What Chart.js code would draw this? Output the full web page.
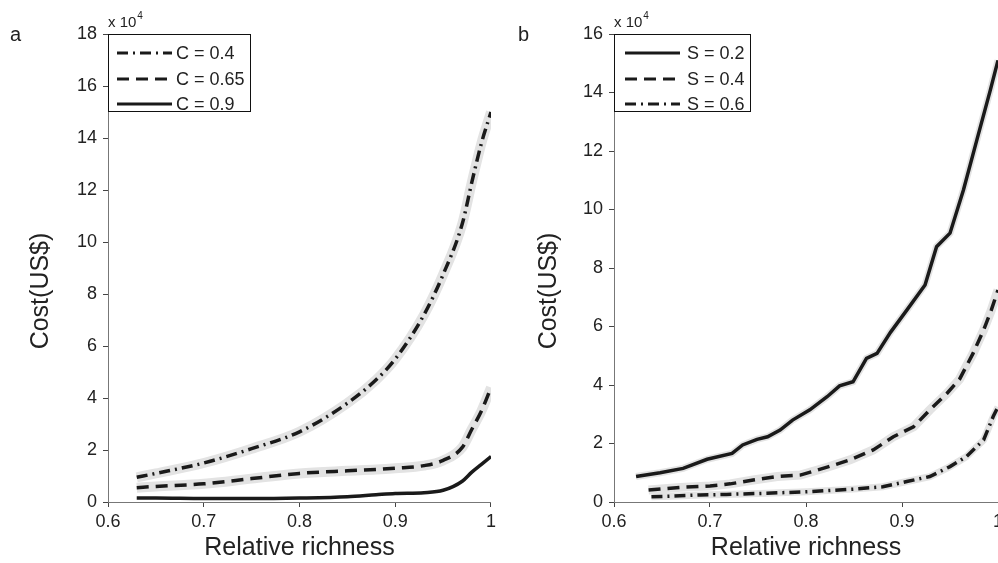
<!DOCTYPE html>
<html>
<head>
<meta charset="utf-8">
<script src="https://cdn.jsdelivr.net/npm/chart.js@4.4.1/dist/chart.umd.min.js"></script>
<style>
  html, body { margin: 0; padding: 0; background: #fff; overflow: hidden; }
  body { width: 998px; height: 563px; position: relative; }
  canvas { position: absolute; top: 0; }
  #chartA { left: 0; }
  #chartB { left: 499px; }
</style>
</head>
<body>
<canvas id="chartA" width="500" height="563"></canvas>
<canvas id="chartB" width="520" height="563"></canvas>
<script>
// 패널 a: C 값별 비용 (단위 x 10^4 US$)
const xA = [0.63, 0.65, 0.7, 0.75, 0.8, 0.85, 0.88, 0.9, 0.93, 0.95, 0.97, 0.98, 0.99, 1.0];
const costC04 = [0.95, 1.1, 1.5, 2.05, 2.7, 3.8, 4.7, 5.5, 7.2, 8.75, 10.7, 12.3, 13.8, 15.0];
const costC065 = [0.55, 0.6, 0.7, 0.9, 1.1, 1.2, 1.25, 1.3, 1.4, 1.6, 2.1, 2.8, 3.5, 4.4];
const costC09 = [0.15, 0.15, 0.13, 0.13, 0.15, 0.2, 0.28, 0.33, 0.36, 0.45, 0.8, 1.15, 1.45, 1.75];

// 패널 b: S 값별 비용
const xS02 = [0.623, 0.648, 0.672, 0.697, 0.723, 0.734, 0.749, 0.76, 0.773, 0.786, 0.804, 0.822, 0.835, 0.849, 0.863, 0.874, 0.888, 0.905, 0.924, 0.936, 0.95, 0.964, 0.978, 0.992, 1.0];
const costS02 = [0.87, 1.0, 1.15, 1.46, 1.66, 1.95, 2.14, 2.23, 2.46, 2.8, 3.15, 3.6, 3.97, 4.11, 4.91, 5.08, 5.8, 6.56, 7.42, 8.73, 9.19, 10.67, 12.38, 14.08, 15.1];
const xS04 = [0.636, 0.669, 0.7, 0.721, 0.745, 0.77, 0.794, 0.822, 0.846, 0.87, 0.891, 0.912, 0.929, 0.947, 0.96, 0.974, 0.985, 0.993, 1.0];
const costS04 = [0.41, 0.5, 0.55, 0.62, 0.75, 0.87, 0.92, 1.19, 1.44, 1.78, 2.23, 2.57, 3.15, 3.72, 4.2, 5.08, 5.88, 6.56, 7.25];
const xS06 = [0.639, 0.658, 0.69, 0.717, 0.759, 0.801, 0.849, 0.88, 0.905, 0.929, 0.95, 0.967, 0.985, 0.995, 1.0];
const costS06 = [0.18, 0.2, 0.24, 0.26, 0.3, 0.35, 0.44, 0.52, 0.7, 0.87, 1.21, 1.55, 2.12, 2.92, 3.25];

const xTicks = [0.6, 0.7, 0.8, 0.9, 1];

const FONT = '"Liberation Sans", Arial, sans-serif';
const DASH = [12, 7];
const DASHDOT = [11, 5, 2, 5];

const pts = (xs, ys) => xs.map((x, i) => ({x: x, y: ys[i]}));

function series(label, xs, ys, dash, haloWidth, smooth) {
    const out = [{
        label: label, data: pts(xs, ys), borderColor: '#1a1a1a', borderWidth: 3.5,
        borderDash: dash, borderCapStyle: 'butt', pointRadius: 0, order: 1,
        cubicInterpolationMode: smooth ? 'monotone' : 'default', tension: 0
    }];
    if (haloWidth) {
        out.push({
            label: label, halo: true, data: pts(xs, ys), borderColor: '#e3e3e3', borderWidth: haloWidth,
            pointRadius: 0, order: 2, cubicInterpolationMode: smooth ? 'monotone' : 'default', tension: 0
        });
    }
    return out;
}

// 범례 상자, 축 제목, 지수 표시, 패널 문자
const decor = {
    id: 'decor',
    afterDraw(chart, args, opts) {
        const {ctx, chartArea} = chart;
        ctx.save();
        ctx.fillStyle = '#222';
        ctx.textBaseline = 'alphabetic';
        ctx.font = '20px ' + FONT;
        ctx.fillText(opts.letter, opts.letterX, 41);

        ctx.font = '15px ' + FONT;
        ctx.fillText('x 10', chartArea.left, 27);
        const w = ctx.measureText('x 10').width;
        ctx.font = '10px ' + FONT;
        ctx.fillText('4', chartArea.left + w + 1, 19);

        ctx.save();
        ctx.font = '25px ' + FONT;
        ctx.translate(opts.titleX, 291);
        ctx.rotate(-Math.PI / 2);
        ctx.textAlign = 'center';
        ctx.textBaseline = 'middle';
        ctx.fillText('Cost(US$)', 0, 0);
        ctx.restore();

        // legend
        const L = chartArea.left, T = chartArea.top;
        ctx.fillStyle = '#fff';
        ctx.fillRect(L, T, opts.boxW, 77);
        ctx.strokeStyle = '#111';
        ctx.lineWidth = 1;
        ctx.strokeRect(L + 0.5, T + 0.5, opts.boxW, 77);
        const rows = [19, 45, 70];
        const items = chart.data.datasets.filter(d => !d.halo);
        ctx.font = '18px ' + FONT;
        ctx.textBaseline = 'middle';
        items.forEach((d, i) => {
            const y = T + rows[i];
            ctx.beginPath();
            ctx.setLineDash(d.borderDash || []);
            ctx.lineWidth = 3;
            ctx.strokeStyle = '#1a1a1a';
            ctx.moveTo(L + opts.lineX0, y);
            ctx.lineTo(L + opts.lineX1, y);
            ctx.stroke();
            ctx.setLineDash([]);
            ctx.fillStyle = '#222';
            ctx.fillText(d.label, L + opts.textX, y + 1);
        });
        ctx.restore();
    }
};

function makeOptions(yMax, yWidth, padRight, deco) {
    return {
        responsive: false,
        animation: false,
        layout: { padding: { left: 0, top: 34, right: padRight, bottom: 0 } },
        plugins: { legend: { display: false }, tooltip: { enabled: false }, decor: deco },
        scales: {
            x: {
                type: 'linear', min: 0.6, max: 1,
                afterBuildTicks: s => { s.ticks = xTicks.map(v => ({value: v})); },
                afterFit: s => { s.height = 61; },
                grid: { drawOnChartArea: false, color: '#444', tickLength: 5 },
                border: { color: '#777', width: 1 },
                ticks: { color: '#222', font: { family: FONT, size: 18 }, padding: 4,
                         callback: v => String(Number(v.toFixed(1))) },
                title: { display: true, text: 'Relative richness', color: '#222',
                         font: { family: FONT, size: 25 }, padding: { top: 0, bottom: 0 } }
            },
            y: {
                min: 0, max: yMax,
                afterFit: s => { s.width = yWidth; },
                grid: { drawOnChartArea: false, color: '#444', tickLength: 5 },
                border: { color: '#777', width: 1 },
                ticks: { stepSize: 2, color: '#222', font: { family: FONT, size: 18 }, padding: 6 }
            }
        }
    };
}

new Chart(document.getElementById('chartA'), {
    type: 'line',
    data: {
        datasets: [
            ...series('C = 0.4', xA, costC04, DASHDOT, 10, true),
            ...series('C = 0.65', xA, costC065, DASH, 10, true),
            ...series('C = 0.9', xA, costC09, [], 0, true)
        ]
    },
    options: makeOptions(18, 108, 7, { letter: 'a', letterX: 10, titleX: 41, boxW: 142, lineX0: 9, lineX1: 64, textX: 68 }),
    plugins: [decor]
});

new Chart(document.getElementById('chartB'), {
    type: 'line',
    data: {
        datasets: [
            ...series('S = 0.2', xS02, costS02, [], 7, false),
            ...series('S = 0.4', xS04, costS04, DASH, 9, false),
            ...series('S = 0.6', xS06, costS06, DASHDOT, 7, false)
        ]
    },
    options: makeOptions(16, 115, 21, { letter: 'b', letterX: 19, titleX: 50, boxW: 136, lineX0: 11, lineX1: 66, textX: 73 }),
    plugins: [decor]
});
</script>
</body>
</html>
